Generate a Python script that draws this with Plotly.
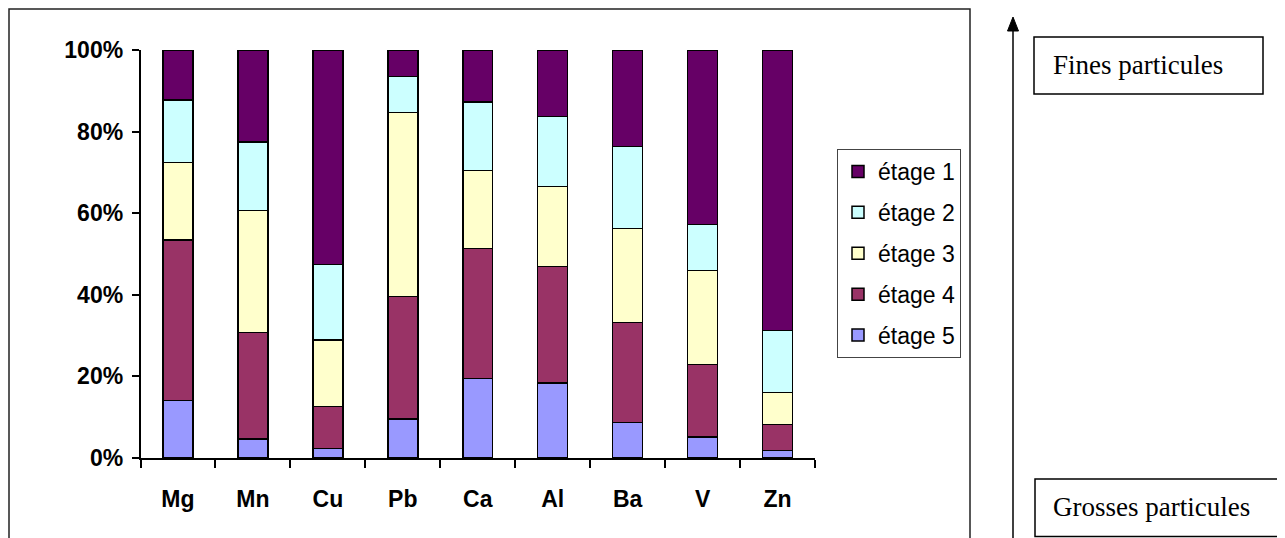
import plotly.graph_objects as go

W, H = 1285, 538
OFF = 8  # page body margin in the browser

elements = ["Mg", "Mn", "Cu", "Pb", "Ca", "Al", "Ba", "V", "Zn"]
etage5 = [14.1, 4.7, 2.3, 9.6, 19.5, 18.4, 8.7, 5.2, 1.8]
etage4 = [39.3, 26.0, 10.3, 30.0, 31.8, 28.5, 24.5, 17.7, 6.4]
etage3 = [19.0, 30.0, 16.3, 45.1, 19.2, 19.7, 23.1, 23.1, 7.8]
etage2 = [15.3, 16.7, 18.5, 8.8, 16.7, 17.1, 20.0, 11.2, 15.2]
etage1 = [12.3, 22.6, 52.6, 6.5, 12.8, 16.3, 23.7, 42.8, 68.8]

series_names = ["étage 5", "étage 4", "étage 3", "étage 2", "étage 1"]
series_values = [etage5, etage4, etage3, etage2, etage1]
series_colors = ["#9999FF", "#993366", "#FFFFCC", "#CCFFFF", "#660066"]

y_ticks = [0, 0.2, 0.4, 0.6, 0.8, 1.0]

fig = go.Figure()
for i, (name, vals, col) in enumerate(zip(series_names, series_values, series_colors)):
    fig.add_trace(go.Bar(
        x=elements, y=vals, name=name, legendgroup=name,
        legendrank=len(series_names) - i,
        marker=dict(color=col, line=dict(color="black", width=1.5)),
    ))

def px_x(p):
    return (p - OFF) / W

def px_y(p):
    return 1 - (p - OFF) / H

font_main = "Liberation Sans, Arial, sans-serif"
font_serif = "Liberation Serif, Times New Roman, serif"

fig.update_layout(
    width=W, height=H,
    margin=dict(l=0, r=0, t=0, b=0, autoexpand=False),
    paper_bgcolor="white", plot_bgcolor="white",
    barmode="stack", barnorm="fraction", bargap=0.6,
    font=dict(family=font_main, color="black"),
    legend=dict(
        x=px_x(837), y=px_y(149), xanchor="left", yanchor="top",
        bordercolor="#444", borderwidth=1, bgcolor="white",
        traceorder="grouped", tracegroupgap=8,
        font=dict(family=font_main, size=23, color="black"),
    ),
    xaxis=dict(
        domain=[px_x(140.5), px_x(815)], automargin=False,
        showline=True, linecolor="black", linewidth=1.5,
        ticks="outside", ticklen=8, tickcolor="black", tickwidth=1.5,
        tickson="boundaries", showgrid=False,
        tickfont=dict(family=font_main, size=23, color="black", weight="bold"),
        ticklabelstandoff=20,
    ),
    yaxis=dict(
        domain=[px_y(458), px_y(50)], automargin=False,
        range=[0, 1], tickvals=y_ticks, tickformat=".0%",
        showline=True, linecolor="black", linewidth=1.5,
        ticks="outside", ticklen=7, tickcolor="black", tickwidth=1.5,
        showgrid=False, zeroline=False,
        tickfont=dict(family=font_main, size=23, color="black", weight="bold"),
        ticklabelstandoff=4,
    ),
)

shapes = []
# outer chart border
shapes.append(dict(type="rect", xref="paper", yref="paper",
                   x0=px_x(9), x1=px_x(970), y0=px_y(560), y1=px_y(9),
                   line=dict(color="#222", width=1.5), fillcolor="rgba(0,0,0,0)"))
# arrow line
shapes.append(dict(type="line", xref="paper", yref="paper",
                   x0=px_x(1013), x1=px_x(1013), y0=px_y(560), y1=px_y(30),
                   line=dict(color="black", width=1.5)))
shapes.append(dict(type="path", xref="paper", yref="paper",
                   path=f"M {px_x(1007.5)} {px_y(31)} L {px_x(1018.5)} {px_y(31)} L {px_x(1013)} {px_y(17)} Z",
                   fillcolor="black", line=dict(color="black", width=1)))
# text boxes
shapes.append(dict(type="rect", xref="paper", yref="paper",
                   x0=px_x(1034), x1=px_x(1263), y0=px_y(94), y1=px_y(37),
                   line=dict(color="black", width=1.5), fillcolor="white"))
shapes.append(dict(type="rect", xref="paper", yref="paper",
                   x0=px_x(1035), x1=px_x(1283.5), y0=px_y(536.5), y1=px_y(479),
                   line=dict(color="black", width=1.5), fillcolor="white"))
fig.update_layout(shapes=shapes)

fig.add_annotation(x=px_x(1051), y=px_y(65), xref="paper", yref="paper",
                   xanchor="left", yanchor="middle", showarrow=False,
                   text="Fines particules",
                   font=dict(family=font_serif, size=27, color="black"))
fig.add_annotation(x=px_x(1051), y=px_y(507), xref="paper", yref="paper",
                   xanchor="left", yanchor="middle", showarrow=False,
                   text="Grosses particules",
                   font=dict(family=font_serif, size=27, color="black"))

fig.write_html("out.html")
